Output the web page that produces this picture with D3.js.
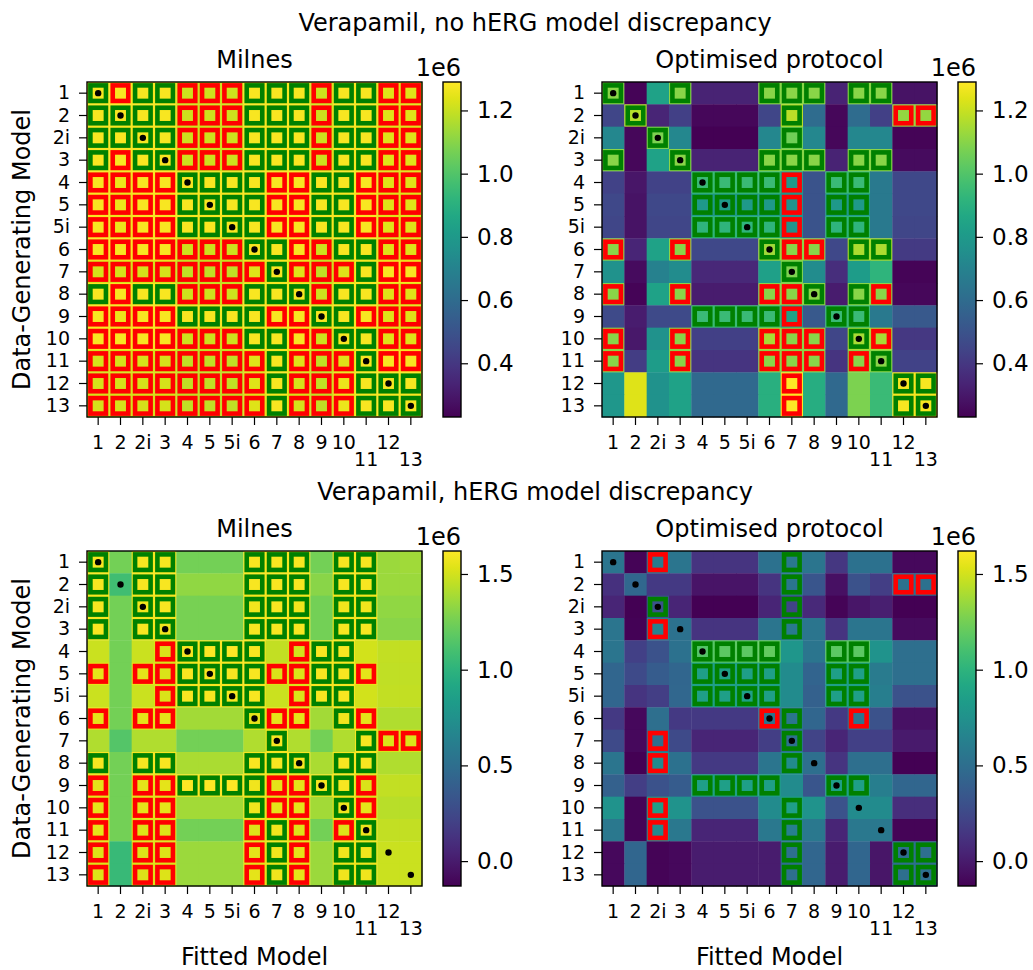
<!DOCTYPE html>
<html>
<head>
<meta charset="utf-8">
<script src="https://cdn.jsdelivr.net/npm/d3@7"></script>
<style>
  body { margin: 0; background: #fff; }
  svg { font-family: "DejaVu Sans", sans-serif; }
</style>
</head>
<body>
<svg id="chart" width="1033" height="970"></svg>
<script>
// model names, used for both axes
const models = ["1","2","2i","3","4","5","5i","6","7","8","9","10","11","12","13"]
// these tick labels sit one line lower so they don't collide
const droppedLabels = ["11","13"]

const rowTitles = ["Verapamil, no hERG model discrepancy", "Verapamil, hERG model discrepancy"]
const panelTitles = ["Milnes", "Optimised protocol"]
const cbarTicksTop = [0.4, 0.6, 0.8, 1.0, 1.2]
const cbarTicksBottom = [0.0, 0.5, 1.0, 1.5]

// values in units of 1e6, rows = data-generating model, cols = fitted model
const noDiscMilnes = [
  [1.28,1.28,1.28,1.28,1.21,1.21,1.21,1.28,1.28,1.28,1.21,1.28,1.28,1.24,1.24],
  [1.28,1.28,1.28,1.28,1.21,1.21,1.21,1.28,1.28,1.28,1.21,1.28,1.28,1.24,1.24],
  [1.28,1.28,1.28,1.28,1.21,1.21,1.21,1.28,1.28,1.28,1.21,1.28,1.28,1.24,1.24],
  [1.28,1.28,1.28,1.28,1.21,1.21,1.21,1.28,1.28,1.28,1.21,1.28,1.28,1.24,1.24],
  [1.28,1.26,1.28,1.28,1.28,1.28,1.28,1.28,1.28,1.28,1.28,1.28,1.28,1.24,1.24],
  [1.28,1.26,1.28,1.28,1.28,1.28,1.28,1.28,1.28,1.28,1.28,1.28,1.28,1.24,1.24],
  [1.28,1.26,1.28,1.28,1.28,1.28,1.28,1.28,1.28,1.28,1.28,1.28,1.28,1.24,1.24],
  [1.28,1.28,1.28,1.28,1.21,1.21,1.21,1.28,1.28,1.28,1.21,1.28,1.28,1.24,1.24],
  [1.22,1.22,1.22,1.22,1.19,1.19,1.19,1.24,1.28,1.24,1.19,1.24,1.28,1.28,1.28],
  [1.28,1.28,1.28,1.28,1.21,1.21,1.21,1.28,1.28,1.28,1.21,1.28,1.28,1.24,1.24],
  [1.28,1.26,1.28,1.28,1.28,1.28,1.28,1.28,1.28,1.28,1.28,1.28,1.28,1.24,1.24],
  [1.28,1.28,1.28,1.28,1.21,1.21,1.21,1.28,1.28,1.28,1.21,1.28,1.28,1.24,1.24],
  [1.22,1.22,1.22,1.22,1.19,1.19,1.19,1.24,1.28,1.24,1.19,1.24,1.28,1.28,1.28],
  [1.22,1.22,1.22,1.22,1.19,1.19,1.19,1.24,1.28,1.22,1.19,1.26,1.28,1.28,1.28],
  [1.22,1.22,1.22,1.22,1.19,1.19,1.19,1.24,1.28,1.22,1.19,1.26,1.28,1.28,1.28]
]
const noDiscOptimised = [
  [1.10,0.24,0.84,1.10,0.33,0.33,0.33,1.10,1.10,1.10,0.33,1.10,1.10,0.28,0.28],
  [0.45,1.17,0.34,0.43,0.25,0.25,0.25,0.45,1.18,0.60,0.25,0.60,0.43,1.12,1.12],
  [0.72,0.25,1.08,0.72,0.23,0.23,0.23,0.72,1.06,0.72,0.25,0.72,0.72,0.24,0.24],
  [1.10,0.25,0.84,1.10,0.33,0.33,0.33,1.10,1.10,1.10,0.33,1.10,1.10,0.26,0.26],
  [0.44,0.29,0.44,0.44,0.95,0.95,0.95,0.95,0.80,0.50,0.95,0.95,0.66,0.46,0.46],
  [0.46,0.28,0.46,0.46,0.80,0.80,0.80,0.80,0.78,0.50,0.80,0.80,0.66,0.46,0.46],
  [0.45,0.28,0.45,0.45,0.92,0.92,0.92,0.92,0.78,0.50,0.92,0.92,0.66,0.45,0.45],
  [1.10,0.34,0.84,1.10,0.46,0.46,0.46,1.14,1.10,1.10,0.46,1.16,1.16,0.41,0.41],
  [0.77,0.26,0.69,0.74,0.35,0.35,0.35,0.83,1.08,0.74,0.37,0.81,0.92,0.24,0.24],
  [1.10,0.24,0.84,1.10,0.31,0.31,0.31,1.10,1.10,1.10,0.31,1.10,1.10,0.25,0.25],
  [0.47,0.31,0.47,0.47,0.95,0.95,0.95,0.95,0.84,0.52,0.95,0.95,0.66,0.52,0.52],
  [1.10,0.30,0.77,1.10,0.43,0.43,0.43,1.15,1.10,1.10,0.45,1.15,1.15,0.40,0.40],
  [1.10,0.42,0.81,1.10,0.39,0.39,0.39,1.10,1.10,1.10,0.39,1.10,1.10,0.44,0.44],
  [0.79,1.24,0.77,0.84,0.59,0.59,0.59,0.90,1.29,0.89,0.59,1.08,0.95,1.28,1.28],
  [0.79,1.24,0.77,0.84,0.59,0.59,0.59,0.90,1.29,0.89,0.59,1.08,0.95,1.28,1.28]
]
const discMilnes = [
  [1.60,1.25,1.60,1.60,1.25,1.25,1.25,1.60,1.60,1.60,1.25,1.60,1.60,1.36,1.37],
  [1.60,1.08,1.60,1.60,1.33,1.33,1.33,1.60,1.60,1.60,1.31,1.60,1.60,1.36,1.36],
  [1.60,1.25,1.58,1.60,1.26,1.26,1.26,1.58,1.60,1.58,1.25,1.58,1.58,1.33,1.33],
  [1.60,1.25,1.60,1.58,1.26,1.26,1.26,1.60,1.60,1.60,1.25,1.60,1.60,1.31,1.31],
  [1.48,1.25,1.48,1.52,1.60,1.62,1.62,1.60,1.46,1.50,1.60,1.60,1.50,1.46,1.46],
  [1.55,1.25,1.55,1.52,1.60,1.60,1.60,1.60,1.52,1.52,1.60,1.60,1.55,1.45,1.45],
  [1.48,1.25,1.48,1.52,1.60,1.60,1.60,1.60,1.48,1.52,1.60,1.60,1.50,1.46,1.46],
  [1.55,1.25,1.55,1.55,1.38,1.38,1.38,1.55,1.55,1.55,1.38,1.58,1.55,1.41,1.41],
  [1.41,1.15,1.41,1.41,1.25,1.25,1.25,1.41,1.60,1.41,1.25,1.41,1.60,1.52,1.52],
  [1.60,1.25,1.60,1.60,1.40,1.40,1.40,1.60,1.60,1.60,1.40,1.60,1.60,1.41,1.41],
  [1.55,1.25,1.55,1.55,1.62,1.62,1.62,1.58,1.55,1.55,1.60,1.60,1.52,1.46,1.46],
  [1.55,1.25,1.55,1.55,1.38,1.38,1.38,1.58,1.55,1.55,1.38,1.58,1.55,1.43,1.43],
  [1.55,1.25,1.53,1.53,1.25,1.25,1.25,1.53,1.58,1.53,1.25,1.53,1.58,1.46,1.46],
  [1.53,1.05,1.53,1.53,1.36,1.36,1.36,1.55,1.58,1.55,1.36,1.58,1.58,1.48,1.48],
  [1.53,1.05,1.53,1.53,1.36,1.36,1.36,1.55,1.58,1.55,1.36,1.58,1.58,1.48,1.48]
]
const discOptimised = [
  [0.55,-0.11,0.60,0.55,0.13,0.13,0.13,0.52,0.57,0.55,0.15,0.52,0.52,-0.09,-0.09],
  [0.11,0.45,0.16,0.16,-0.04,-0.04,-0.04,0.13,0.55,0.33,-0.06,0.31,0.19,0.52,0.52],
  [0.05,-0.13,0.31,0.05,-0.13,-0.13,-0.13,0.05,0.22,0.07,-0.11,-0.03,0.02,-0.13,-0.13],
  [0.55,-0.12,0.65,0.52,0.13,0.13,0.13,0.55,0.58,0.55,0.13,0.55,0.55,-0.08,-0.08],
  [0.55,0.20,0.31,0.52,1.15,1.18,1.18,1.20,0.79,0.55,1.18,1.18,0.77,0.50,0.50],
  [0.44,0.26,0.37,0.44,0.85,0.85,0.85,0.85,0.71,0.43,0.85,0.85,0.59,0.50,0.50],
  [0.44,0.13,0.19,0.45,0.85,0.85,0.85,0.85,0.71,0.41,0.85,0.85,0.61,0.31,0.31],
  [0.16,-0.09,0.50,0.16,0.16,0.16,0.16,0.55,0.55,0.44,0.16,0.55,0.31,-0.05,-0.05],
  [0.26,-0.09,0.50,0.26,0.05,0.05,0.05,0.19,0.50,0.22,0.05,0.20,0.20,-0.01,-0.01],
  [0.55,-0.13,0.71,0.52,0.16,0.16,0.16,0.55,0.71,0.50,0.13,0.50,0.50,-0.13,-0.13],
  [0.41,0.19,0.31,0.37,0.85,0.85,0.85,0.85,0.71,0.33,0.85,0.85,0.61,0.44,0.44],
  [0.77,-0.11,0.85,0.77,0.31,0.31,0.31,0.71,0.85,0.77,0.31,0.71,0.71,0.10,0.10],
  [0.57,-0.11,0.71,0.57,0.05,0.05,0.05,0.57,0.62,0.57,0.05,0.57,0.57,-0.11,-0.11],
  [-0.09,0.44,-0.11,-0.09,0.00,0.00,0.00,0.00,0.50,0.44,0.00,0.44,-0.03,0.50,0.50],
  [-0.09,0.44,-0.11,-0.09,0.00,0.00,0.00,0.00,0.50,0.44,0.00,0.44,-0.03,0.50,0.50]
]

// outline per cell: G = green box, R = red box, . = none
const noDiscMilnesFlags = [
  "GRGGRRRGGGRGGRR","GGGGRRRGGGRGGRR","GGGGRRRGGGRGGRR","GRGGRRRGGGRGGRR",
  "RRRRGGGGRRGGRRR","RRRRGGGGRRGGRRR","RRRRGGGGRRGGRRR","RRRRRRRGGRRGGRR",
  "RRRRRRRRGRRRGRR","GRGGRRRGGGRGGRR","RRRRGGGGRRGGRRR","RRRRRRRGGRRGGRR",
  "RRRRRRRRGRRRGRR","RRRRRRRRGRRRGGG","RRRRRRRRGRRRGGG"
]
const noDiscOptimisedFlags = [
  "G..G...GGG.GG..",".G......G....RR","..G.....G......","G..G...GGG.GG..",
  "....GGGGR.GG...","....GGGGR.GG...","....GGGGR.GG...","R..R...GRR.GG..",
  "........G......","R..R...RRG.GR..","....GGGGR.GG...","R..R...RRR.GR..",
  "R..R...RRR.RG..","........R....GG","........R....GG"
]
const discMilnesFlags = [
  "G.GG...GGG.GG..","G.GG...GGG.GG..","G.GG...GGG.GG..","G.GG...GGG.GG..",
  "...RGGGG.RGG...","R.RRGGGGRRGGR..","...RGGGG.RGG...","R.RR...GRR.GR..",
  "........G...GRR","G.GG...GGG.GG..","R.RRGGGGRRGGR..","R.RR...GRR.GR..",
  "R.RR...RGR.RG..","R.RR...RGR.GG..","R.RR...RGR.GG.."
]
const discOptimisedFlags = [
  "..R.....G......","........G....RR","..G.....G......","..R.....G......",
  "....GGGG..GG...","....GGGG..GG...","....GGGG..GG...",".......RG..R...",
  "..R.....G......","..R.....G......","....GGGG..GG...","..R.....G......",
  "..R.....G......","........G....GG","........G....GG"
]

const svg = d3.select('#chart')
const defs = svg.append('defs')
const size = 335
const leftX = [87, 602]
const topY = [82, 551]

const rows = [
  [{values: noDiscMilnes, flags: noDiscMilnesFlags}, {values: noDiscOptimised, flags: noDiscOptimisedFlags}],
  [{values: discMilnes, flags: discMilnesFlags}, {values: discOptimised, flags: discOptimisedFlags}]
]
const cbarTicks = [cbarTicksTop, cbarTicksBottom]

function styleAxis(g, fontSize) {
  g.select('.domain').remove()
  g.selectAll('.tick line').attr('stroke', '#000').attr('stroke-width', 1.2)
  g.selectAll('.tick text').attr('fill', '#000').style('font-size', fontSize + 'px')
    .style('font-family', '"DejaVu Sans", sans-serif')
}

function drawPanel(p, px, py, title, color, showYLabel, showXLabel) {
  const g = svg.append('g').attr('transform', `translate(${px},${py})`)
  const x = d3.scaleBand().domain(models).range([0, size])
  const y = d3.scaleBand().domain(models).range([0, size])

  const cells = p.values.flatMap((row, i) => row.map((v, j) => ({
    row: models[i], col: models[j], v: v, flag: p.flags[i][j]
  })))

  g.selectAll('rect.cell').data(cells).enter().append('rect')
    .attr('class', 'cell')
    .attr('x', d => x(d.col)).attr('y', d => y(d.row))
    .attr('width', x.bandwidth() + 0.4).attr('height', y.bandwidth() + 0.4)
    .attr('fill', d => color(d.v))

  const inset = 3.4
  g.selectAll('rect.flag').data(cells.filter(d => d.flag !== '.')).enter().append('rect')
    .attr('class', 'flag')
    .attr('x', d => x(d.col) + inset).attr('y', d => y(d.row) + inset)
    .attr('width', x.bandwidth() - 2 * inset).attr('height', y.bandwidth() - 2 * inset)
    .attr('fill', 'none')
    .attr('stroke', d => d.flag === 'G' ? '#008000' : '#ff0000')
    .attr('stroke-width', 4.6)

  // true model marked on the diagonal
  g.selectAll('circle').data(models).enter().append('circle')
    .attr('cx', m => x(m) + x.bandwidth() / 2)
    .attr('cy', m => y(m) + y.bandwidth() / 2)
    .attr('r', 3.2).attr('fill', '#000')

  g.append('rect').attr('width', size).attr('height', size)
    .attr('fill', 'none').attr('stroke', '#000').attr('stroke-width', 1.4)

  const yAxis = g.append('g').call(d3.axisLeft(y).tickSize(8).tickPadding(9))
  styleAxis(yAxis, 19)

  const xAxis = g.append('g').attr('transform', `translate(0,${size})`)
    .call(d3.axisBottom(x).tickSize(8).tickPadding(11))
  styleAxis(xAxis, 19)
  xAxis.selectAll('.tick text').filter(d => droppedLabels.includes(d)).attr('dy', '1.6em')

  g.append('text').attr('x', size / 2).attr('y', -14).attr('text-anchor', 'middle')
    .style('font-size', '24px').text(title)

  if (showYLabel) {
    g.append('text').attr('transform', `translate(${30 - px},${size / 2}) rotate(-90)`)
      .attr('text-anchor', 'middle').style('font-size', '24px').text('Data-Generating Model')
  }
  if (showXLabel) {
    g.append('text').attr('x', size / 2).attr('y', 965 - py).attr('text-anchor', 'middle')
      .style('font-size', '24px').text('Fitted Model')
  }
}

function drawColorbar(cx, cy, color, ticks, id) {
  const grad = defs.append('linearGradient').attr('id', id)
    .attr('x1', 0).attr('y1', 1).attr('x2', 0).attr('y2', 0)
  d3.range(0, 1.0001, 0.05).forEach(t => {
    grad.append('stop').attr('offset', t).attr('stop-color', d3.interpolateViridis(t))
  })
  const w = 18
  const g = svg.append('g').attr('transform', `translate(${cx},${cy})`)
  g.append('rect').attr('width', w).attr('height', size).attr('fill', `url(#${id})`)
    .attr('stroke', '#000').attr('stroke-width', 1.4)
  const s = d3.scaleLinear().domain(color.domain()).range([size, 0])
  const ax = g.append('g').attr('transform', `translate(${w},0)`)
    .call(d3.axisRight(s).tickValues(ticks).tickSize(7).tickPadding(9).tickFormat(d3.format('.1f')))
  styleAxis(ax, 23)
  g.append('text').attr('x', w).attr('y', -6).attr('text-anchor', 'end')
    .style('font-size', '24px').text('1e6')
}

rows.forEach((pair, r) => {
  const all = pair.flatMap(p => p.values.flat())
  const color = d3.scaleSequential(d3.interpolateViridis).domain(d3.extent(all))

  svg.append('text').attr('x', 535).attr('y', topY[r] - 51).attr('text-anchor', 'middle')
    .style('font-size', '24px').text(rowTitles[r])

  pair.forEach((p, c) => {
    drawPanel(p, leftX[c], topY[r], panelTitles[c], color, c === 0, r === 1)
    drawColorbar(leftX[c] + size + 21, topY[r], color, cbarTicks[r], `cbar${r}${c}`)
  })
})
</script>
</body>
</html>
